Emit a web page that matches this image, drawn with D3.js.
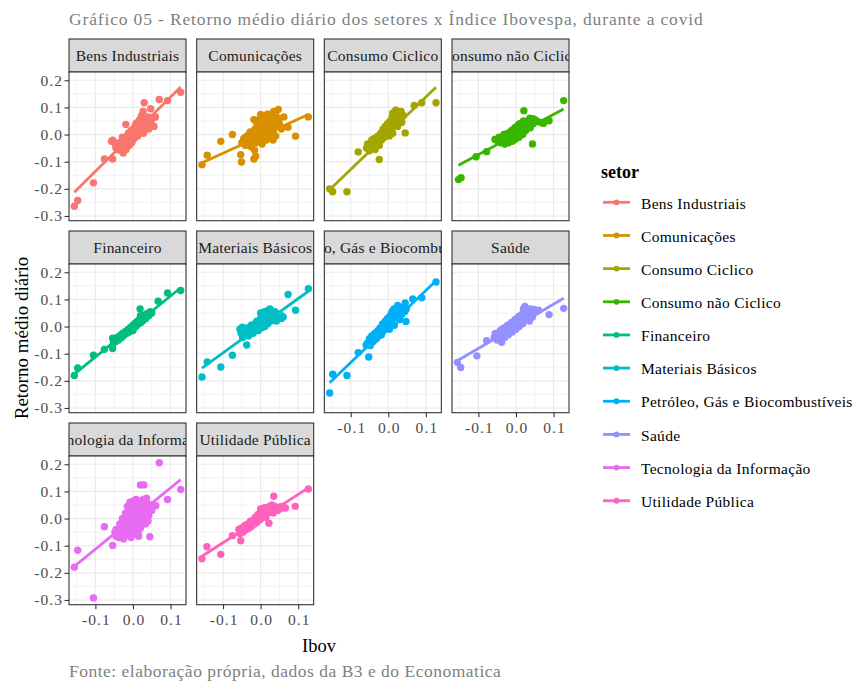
<!DOCTYPE html>
<html>
<head>
<meta charset="utf-8">
<script src="https://cdn.jsdelivr.net/npm/d3@7"></script>
<style>
  body { margin: 0; background: #ffffff; }
  text { font-family: "Liberation Serif", "DejaVu Serif", serif; }
</style>
</head>
<body>
<svg id="chart" width="854" height="684"></svg>
<script>
// Sectors, in facet / legend order
const sectors = [
  "Bens Industriais", "Comunicações", "Consumo Ciclico", "Consumo não Ciclico",
  "Financeiro", "Materiais Básicos", "Petróleo, Gás e Biocombustíveis", "Saúde",
  "Tecnologia da Informação", "Utilidade Pública"
];
const sectorColors = [
  "#F8766D", "#D89000", "#A3A500", "#39B600", "#00BF7D",
  "#00BFC4", "#00B0F6", "#9590FF", "#E76BF3", "#FF62BC"
];

// Linear fit (retorno = intercepto + inclinação * Ibov) for each sector
const slopes     = [1.37, 0.63, 1.335, 0.74, 1.125, 1.0, 1.327, 0.813, 1.13, 0.89];
const intercepts = [0.001, -0.006, 0.005, 0.0, 0.0, 0.003, 0.0, 0.001, 0.0, 0.0];

const xTicks = [-0.1, 0.0, 0.1];
const yTicks = [-0.3, -0.2, -0.1, 0.0, 0.1, 0.2];

// Daily mean return of each sector [Ibov, sector]
const bensIndustriais = [
  [-0.156,-0.264],[-0.147,-0.243],[-0.105,-0.178],[-0.076,-0.090],[-0.054,-0.090],[-0.054,-0.021],
  [-0.019,0.037],[0.030,0.117],[0.047,0.095],[0.070,0.129],[0.060,0.065],[0.092,0.125],[0.127,0.156],
  [-0.057,-0.025],[-0.048,-0.030],[-0.045,-0.045],[-0.040,-0.055],[-0.035,-0.040],[-0.032,-0.060],
  [-0.030,-0.025],[-0.027,-0.048],[-0.026,-0.068],[-0.022,-0.035],[-0.020,-0.010],[-0.018,-0.055],
  [-0.015,-0.020],[-0.012,0.005],[-0.010,-0.040],[-0.008,-0.015],[-0.005,0.015],[-0.003,-0.030],
  [0.000,0.000],[0.003,0.025],[0.005,-0.012],[0.008,0.040],[0.010,0.010],[0.013,-0.005],[0.015,0.030],
  [0.018,0.055],[0.020,0.015],[0.023,0.070],[0.025,0.040],[0.027,0.085],[0.028,0.005],[0.030,0.060],
  [0.033,0.025],[0.036,0.045],[0.040,0.065],[0.042,0.020],[0.046,0.050],[0.050,0.035],[0.053,0.060],
  [0.056,0.030],
  [-0.045,-0.050],[-0.040,-0.040],[-0.035,-0.030],[-0.030,-0.040],[-0.025,-0.025],[-0.020,-0.030],
  [-0.015,-0.005],[-0.010,-0.010],[-0.005,-0.005],[0.000,0.015],[0.005,0.005],[0.005,0.020],
  [0.010,0.025],[0.015,0.015],[0.020,0.035],[0.025,0.020],[0.030,0.040],[0.035,0.030],
  [0.038,0.055],[0.045,0.035],[-0.038,-0.048],[-0.028,-0.010],[0.000,-0.020],[0.012,0.045]
];
const comunicacoes = [
  [-0.156,-0.111],[-0.142,-0.076],[-0.106,-0.025],[-0.075,0.000],[-0.053,-0.074],[-0.051,-0.101],
  [-0.018,-0.090],[-0.013,-0.080],[0.127,0.065],[0.062,0.065],[0.073,0.027],[0.093,-0.006],
  [-0.050,-0.030],[-0.045,-0.015],[-0.040,-0.040],[-0.036,-0.005],[-0.032,-0.025],[-0.028,0.010],
  [-0.025,-0.045],[-0.022,-0.015],[-0.018,0.055],[-0.016,-0.058],[-0.015,0.020],[-0.012,-0.030],
  [-0.008,0.000],[-0.005,0.030],[-0.003,-0.020],[0.000,0.074],[0.000,0.010],[0.004,-0.035],
  [0.006,0.040],[0.009,-0.006],[0.012,0.020],[0.015,-0.020],[0.018,0.050],[0.020,0.005],
  [0.022,0.074],[0.025,0.030],[0.028,-0.010],[0.030,0.045],[0.034,0.015],[0.038,0.055],
  [0.040,-0.005],[0.044,0.030],[0.047,0.092],[0.050,0.040],[0.055,0.020],
  [-0.045,-0.030],[-0.040,-0.010],[-0.035,-0.025],[-0.030,-0.010],[-0.025,0.000],[-0.020,-0.030],
  [-0.015,0.000],[-0.010,0.040],[-0.010,-0.010],[-0.005,0.010],[0.000,-0.015],[0.000,0.040],
  [0.005,0.020],[0.010,0.055],[0.010,0.000],[0.015,0.035],[0.020,0.020],[0.025,0.060],
  [0.025,-0.005],[0.030,0.020],[0.035,0.035],[0.040,0.070],[0.045,0.050],[0.050,0.060],
  [-0.005,0.055],[0.018,0.075],[0.035,0.085],[0.033,-0.020]
];
const consumoCiclico = [
  [-0.156,-0.200],[-0.148,-0.211],[-0.110,-0.211],[-0.080,-0.064],[-0.024,-0.092],[0.045,0.006],
  [0.069,0.107],[0.089,0.117],[0.127,0.117],
  [-0.058,-0.050],[-0.055,-0.035],[-0.050,-0.060],[-0.046,-0.030],[-0.042,-0.045],[-0.038,-0.015],
  [-0.035,-0.055],[-0.030,-0.025],[-0.027,-0.005],[-0.024,-0.040],[-0.020,0.005],[-0.018,-0.020],
  [-0.014,0.020],[-0.010,-0.010],[-0.008,0.030],[-0.005,0.000],[-0.002,0.040],[0.000,0.015],
  [0.003,-0.005],[0.005,0.050],[0.008,0.025],[0.010,0.065],[0.012,0.005],[0.015,0.040],
  [0.018,0.075],[0.020,0.090],[0.022,0.055],[0.025,0.030],[0.028,0.080],[0.030,0.060],
  [0.034,0.085],[0.036,0.045],[0.040,0.070],
  [-0.052,-0.045],[-0.048,-0.040],[-0.044,-0.020],[-0.040,-0.035],[-0.033,-0.040],[-0.030,-0.010],
  [-0.025,-0.020],[-0.020,-0.010],[-0.016,0.005],[-0.012,0.005],[-0.008,0.010],[-0.004,0.020],
  [0.000,0.030],[0.004,0.030],[0.008,0.045],[0.012,0.040],[0.016,0.055],[0.020,0.060],
  [0.024,0.070],[0.028,0.055],[0.032,0.070],[0.035,0.060],[0.026,0.085],[0.012,0.080]
];
const consumoNaoCiclico = [
  [-0.153,-0.166],[-0.146,-0.159],[-0.106,-0.082],[-0.078,-0.063],[-0.056,-0.018],[0.021,0.088],
  [0.044,-0.035],[0.037,0.060],[0.073,0.041],[0.088,0.051],[0.127,0.125],
  [-0.048,-0.025],[-0.045,-0.010],[-0.040,-0.030],[-0.036,-0.015],[-0.032,0.000],[-0.030,-0.035],
  [-0.026,-0.020],[-0.022,0.005],[-0.020,-0.030],[-0.016,-0.010],[-0.012,0.015],[-0.010,-0.025],
  [-0.006,0.000],[-0.003,0.025],[0.000,-0.015],[0.003,0.010],[0.006,0.035],[0.008,-0.010],
  [0.012,0.020],[0.015,0.040],[0.018,0.000],[0.020,0.030],[0.024,0.045],[0.026,0.015],
  [0.030,0.035],[0.034,0.050],[0.038,0.025],[0.042,0.045],[0.046,0.040],[0.050,0.055],
  [-0.042,-0.020],[-0.038,-0.022],[-0.034,-0.010],[-0.028,-0.010],[-0.024,-0.012],[-0.018,-0.002],
  [-0.014,0.000],[-0.008,0.010],[-0.004,0.005],[0.000,0.015],[0.002,-0.005],[0.006,0.020],
  [0.010,0.010],[0.014,0.025],[0.018,0.020],[0.022,0.030],[0.028,0.030],[0.032,0.040],
  [0.036,0.040],[0.040,0.050],[0.010,0.040],[-0.005,-0.020],[0.020,0.050],
  [0.045,0.058],[0.055,0.050],[0.065,0.045]
];
const financeiro = [
  [-0.156,-0.180],[-0.147,-0.153],[-0.105,-0.106],[-0.076,-0.084],[-0.054,-0.081],[-0.054,-0.043],
  [0.067,0.093],[0.092,0.124],[0.127,0.133],[0.019,0.065],
  [-0.052,-0.060],[-0.050,-0.045],[-0.046,-0.055],[-0.042,-0.040],[-0.038,-0.050],[-0.035,-0.035],
  [-0.030,-0.040],[-0.028,-0.025],[-0.024,-0.032],[-0.020,-0.018],[-0.016,-0.025],[-0.012,-0.010],
  [-0.010,-0.020],[-0.006,-0.002],[-0.003,-0.012],[0.000,0.005],[0.003,-0.005],[0.006,0.012],
  [0.009,0.002],[0.012,0.020],[0.015,0.010],[0.018,0.028],[0.021,0.015],[0.024,0.035],
  [0.027,0.022],[0.030,0.042],[0.034,0.030],[0.038,0.048],[0.042,0.040],[0.046,0.055],[0.050,0.050],
  [-0.048,-0.052],[-0.044,-0.048],[-0.040,-0.045],[-0.036,-0.042],[-0.032,-0.032],[-0.026,-0.030],
  [-0.022,-0.025],[-0.018,-0.022],[-0.014,-0.015],[-0.008,-0.010],[-0.004,-0.005],[0.002,0.000],
  [0.004,0.008],[0.008,0.008],[0.011,0.012],[0.014,0.018],[0.017,0.020],[0.020,0.022],
  [0.023,0.027],[0.026,0.030],[0.029,0.033],[0.032,0.036],[0.036,0.040],[0.040,0.045],
  [0.044,0.048],[0.048,0.052],[0.020,0.040],[0.000,-0.015]
];
const materiaisBasicos = [
  [-0.156,-0.186],[-0.142,-0.130],[-0.106,-0.149],[-0.075,-0.106],[-0.037,-0.068],[-0.049,-0.002],
  [0.073,0.118],[0.093,0.060],[0.127,0.139],
  [-0.055,-0.010],[-0.052,-0.025],[-0.048,-0.040],[-0.045,-0.015],[-0.040,-0.030],[-0.036,-0.005],
  [-0.032,-0.035],[-0.028,-0.015],[-0.025,0.005],[-0.020,-0.025],[-0.016,0.010],[-0.014,-0.010],
  [-0.010,0.020],[-0.006,-0.015],[-0.004,0.005],[0.000,0.030],[0.002,-0.005],[0.006,0.015],
  [0.008,0.040],[0.011,0.000],[0.014,0.025],[0.016,0.055],[0.019,0.010],[0.022,0.040],
  [0.025,0.065],[0.028,0.020],[0.031,0.045],[0.035,0.030],[0.038,0.055],[0.042,0.020],
  [0.046,0.045],[0.050,0.030],[0.055,0.040],[0.060,0.035],[0.000,0.050],
  [-0.050,-0.020],[-0.045,-0.028],[-0.040,-0.015],[-0.035,-0.020],[-0.030,-0.005],[-0.025,-0.010],
  [-0.020,0.000],[-0.015,0.000],[-0.010,0.005],[-0.005,0.015],[0.000,0.010],[0.004,0.025],
  [0.008,0.020],[0.012,0.035],[0.016,0.030],[0.020,0.045],[0.024,0.035],[0.028,0.050],
  [0.032,0.035],[0.036,0.045],[0.040,0.040],[0.045,0.035],[0.050,0.045],[0.055,0.030],
  [0.020,0.060],[0.010,0.055]
];
const petroleoGas = [
  [-0.156,-0.245],[-0.148,-0.176],[-0.110,-0.180],[-0.080,-0.096],[-0.052,-0.112],[-0.059,-0.068],
  [0.047,0.019],[0.045,0.087],[0.065,0.102],[0.089,0.106],[0.127,0.164],
  [-0.055,-0.060],[-0.050,-0.045],[-0.048,-0.070],[-0.044,-0.035],[-0.040,-0.055],[-0.036,-0.025],
  [-0.032,-0.045],[-0.028,-0.015],[-0.025,-0.035],[-0.022,-0.005],[-0.018,-0.030],[-0.015,0.010],
  [-0.012,-0.015],[-0.008,0.020],[-0.005,-0.005],[-0.002,0.030],[0.000,0.010],[0.003,-0.010],
  [0.005,0.040],[0.008,0.020],[0.010,0.055],[0.013,0.030],[0.016,0.005],[0.018,0.060],
  [0.020,0.040],[0.024,0.070],[0.027,0.050],[0.030,0.025],[0.033,0.060],[0.036,0.045],
  [0.040,0.070],[0.044,0.055],[0.048,0.065],
  [-0.050,-0.060],[-0.045,-0.050],[-0.040,-0.040],[-0.036,-0.045],[-0.032,-0.030],[-0.028,-0.035],
  [-0.024,-0.020],[-0.020,-0.015],[-0.016,-0.015],[-0.012,0.000],[-0.008,0.000],[-0.004,0.010],
  [0.000,0.025],[0.004,0.015],[0.008,0.035],[0.012,0.045],[0.016,0.040],[0.020,0.055],
  [0.024,0.050],[0.028,0.060],[0.032,0.050],[0.036,0.060],[0.040,0.060],[0.015,0.065],[0.025,0.078]
];
const saude = [
  [-0.156,-0.132],[-0.147,-0.151],[-0.104,-0.108],[-0.078,-0.052],[-0.038,-0.058],[0.088,0.044],
  [0.127,0.067],
  [-0.058,-0.040],[-0.055,-0.025],[-0.050,-0.050],[-0.046,-0.030],[-0.042,-0.015],[-0.040,-0.045],
  [-0.036,-0.025],[-0.032,-0.005],[-0.030,-0.040],[-0.026,-0.015],[-0.022,0.005],[-0.020,-0.030],
  [-0.016,-0.005],[-0.012,0.015],[-0.010,-0.020],[-0.006,0.005],[-0.003,0.025],[0.000,-0.010],
  [0.003,0.015],[0.006,0.035],[0.008,0.000],[0.012,0.025],[0.015,0.045],[0.018,0.010],
  [0.020,0.035],[0.024,0.074],[0.024,0.055],[0.028,0.030],[0.032,0.050],[0.036,0.020],
  [0.040,0.045],[0.044,0.035],[0.040,0.065],[0.050,0.062],[0.060,0.060],
  [-0.052,-0.035],[-0.048,-0.040],[-0.044,-0.025],[-0.040,-0.030],[-0.036,-0.010],[-0.032,-0.025],
  [-0.028,-0.010],[-0.024,-0.020],[-0.020,0.000],[-0.016,-0.015],[-0.012,0.005],[-0.008,0.010],
  [-0.004,0.000],[0.000,0.020],[0.004,0.030],[0.008,0.020],[0.012,0.040],[0.016,0.030],
  [0.020,0.050],[0.024,0.040],[0.028,0.050],[0.032,0.060],[0.036,0.055],[0.045,0.058],
  [0.055,0.055],[0.020,0.065],[0.030,0.065]
];
const tecnologiaInformacao = [
  [-0.156,-0.179],[-0.147,-0.117],[-0.105,-0.2925],[-0.076,-0.030],[-0.054,-0.099],[0.020,0.124],
  [0.029,0.124],[0.045,-0.067],[0.061,0.047],[0.070,0.2055],[0.092,0.070],[0.127,0.107],
  [-0.048,-0.050],[-0.045,-0.065],[-0.040,-0.040],[-0.038,-0.070],[-0.035,-0.020],[-0.030,-0.050],
  [-0.028,0.000],[-0.025,-0.035],[-0.022,-0.065],[-0.020,0.020],[-0.018,-0.015],[-0.015,0.045],
  [-0.012,-0.045],[-0.010,0.000],[-0.008,0.060],[-0.006,0.030],[-0.004,-0.025],[-0.002,-0.060],
  [0.000,0.010],[0.002,0.065],[0.004,0.040],[0.006,-0.015],[0.008,-0.045],[0.010,0.020],
  [0.012,0.060],[0.015,-0.005],[0.018,0.045],[0.020,-0.035],[0.022,0.025],[0.025,0.060],
  [0.028,0.005],[0.030,0.040],[0.033,-0.020],[0.036,0.075],[0.038,0.030],[0.042,0.010],
  [0.046,0.050],[0.050,0.030],
  [-0.045,-0.040],[-0.042,-0.055],[-0.038,-0.045],[-0.035,-0.060],[-0.032,-0.030],[-0.030,-0.070],
  [-0.027,-0.020],[-0.024,-0.050],[-0.022,-0.005],[-0.018,-0.040],[-0.016,0.010],[-0.014,-0.060],
  [-0.012,0.030],[-0.010,-0.030],[-0.008,0.015],[-0.006,-0.050],[-0.004,0.050],[-0.002,-0.010],
  [0.000,0.040],[0.002,-0.035],[0.004,0.060],[0.006,0.010],[0.008,0.070],[0.010,-0.025],
  [0.012,0.035],[0.014,-0.050],[0.016,0.020],[0.018,0.065],[0.020,0.000],[0.022,0.050],
  [0.024,-0.015],[0.026,0.030],[0.028,0.070],[0.030,0.015],[0.032,0.055],[0.034,-0.005],
  [0.036,0.040],[0.040,0.055],[0.040,-0.010],[0.044,0.030],[0.010,0.045],[-0.005,-0.070],
  [0.015,-0.065],[-0.025,-0.075]
];
const utilidadePublica = [
  [-0.156,-0.148],[-0.143,-0.104],[-0.106,-0.132],[-0.075,-0.063],[-0.053,-0.082],[0.035,0.082],
  [0.066,0.039],[0.092,0.045],[0.127,0.109],[0.022,-0.017],
  [-0.058,-0.040],[-0.055,-0.055],[-0.050,-0.035],[-0.046,-0.050],[-0.042,-0.025],[-0.038,-0.040],
  [-0.034,-0.020],[-0.030,-0.035],[-0.027,-0.010],[-0.024,-0.028],[-0.020,-0.005],[-0.017,-0.020],
  [-0.014,0.005],[-0.010,-0.015],[-0.007,0.015],[-0.004,-0.005],[0.000,0.020],[0.002,0.000],
  [0.005,0.025],[0.008,0.010],[0.011,0.030],[0.014,0.005],[0.017,0.035],[0.020,0.020],
  [0.023,0.045],[0.026,0.025],[0.030,0.040],[0.034,0.020],[0.038,0.045],[0.042,0.030],
  [0.046,0.040],[0.050,0.035],[0.055,0.045],[0.060,0.040],
  [-0.052,-0.045],[-0.048,-0.040],[-0.044,-0.035],[-0.040,-0.030],[-0.036,-0.030],[-0.032,-0.025],
  [-0.028,-0.020],[-0.024,-0.015],[-0.020,-0.018],[-0.016,-0.005],[-0.012,-0.005],[-0.008,0.000],
  [-0.004,0.010],[0.000,0.005],[0.004,0.012],[0.008,0.020],[0.012,0.018],[0.016,0.022],
  [0.020,0.030],[0.024,0.030],[0.028,0.030],[0.032,0.035],[0.036,0.035],[0.010,0.040],
  [0.000,0.035],[0.030,0.050],[0.045,0.030]
];
const sectorPoints = [
  bensIndustriais, comunicacoes, consumoCiclico, consumoNaoCiclico, financeiro,
  materiaisBasicos, petroleoGas, saude, tecnologiaInformacao, utilidadePublica
];

// ---- layout ----
const svg = d3.select("#chart");
const nCol = 4;
const panelW = 117, panelH = 148.7, stripH = 33;
const colStep = 127.67, rowStep = 192;
const left0 = 69, top0 = 39;
const textGrey = "#4D4D4D", borderCol = "#333333", gridCol = "#EBEBEB";
const tickFont = 15.5, tickSpacing = 1.1;

// shared scales (5% expansion, like ggplot)
const allPts = sectorPoints.flat();
function expanded(ext) { const r = ext[1] - ext[0]; return [ext[0] - 0.05 * r, ext[1] + 0.05 * r]; }
const xExt = d3.extent(allPts, d => d[0]);
const yExt = d3.extent(allPts, d => d[1]);
const x = d3.scaleLinear().domain(expanded(xExt)).range([0, panelW]);
const y = d3.scaleLinear().domain(expanded(yExt)).range([panelH, 0]);

function minorBreaks(ticks, dom) {
  const step = ticks[1] - ticks[0];
  const out = [];
  for (let i = -1; i < ticks.length; i++) {
    const v = (i < 0 ? ticks[0] - step / 2 : ticks[i] + step / 2);
    if (v > dom[0] && v < dom[1]) out.push(v);
  }
  return out;
}
const xMinor = minorBreaks(xTicks, x.domain());
const yMinor = minorBreaks(yTicks, y.domain());
const fmt = d => d.toFixed(1);

const defs = svg.append("defs");
defs.append("clipPath").attr("id", "panelClip")
  .append("rect").attr("width", panelW).attr("height", panelH);
defs.append("clipPath").attr("id", "stripClip")
  .append("rect").attr("width", panelW).attr("height", stripH);

const nPanels = sectors.length;
const nRows = Math.ceil(nPanels / nCol);

sectors.forEach((name, i) => {
  const col = i % nCol, row = Math.floor(i / nCol);
  const px = left0 + col * colStep;
  const sy = top0 + row * rowStep;
  const py = sy + stripH;
  const color = sectorColors[i];
  const pts = sectorPoints[i];

  // strip
  const strip = svg.append("g").attr("transform", `translate(${px},${sy})`);
  strip.append("rect").attr("width", panelW).attr("height", stripH)
    .attr("fill", "#D9D9D9").attr("stroke", borderCol).attr("stroke-width", 1.1);
  strip.append("g").attr("clip-path", "url(#stripClip)")
    .append("text").attr("x", panelW / 2).attr("y", stripH / 2).attr("dy", "0.35em")
    .attr("text-anchor", "middle").attr("font-size", 15.5).attr("letter-spacing", 0.2)
    .attr("fill", "#1A1A1A")
    .text(name);

  // panel
  const g = svg.append("g").attr("transform", `translate(${px},${py})`);
  g.append("rect").attr("width", panelW).attr("height", panelH).attr("fill", "#ffffff");
  const grid = g.append("g");
  grid.selectAll(".xmin").data(xMinor).join("line")
    .attr("x1", d => x(d)).attr("x2", d => x(d)).attr("y1", 0).attr("y2", panelH)
    .attr("stroke", gridCol).attr("stroke-width", 0.6);
  grid.selectAll(".ymin").data(yMinor).join("line")
    .attr("y1", d => y(d)).attr("y2", d => y(d)).attr("x1", 0).attr("x2", panelW)
    .attr("stroke", gridCol).attr("stroke-width", 0.6);
  grid.selectAll(".xmaj").data(xTicks).join("line")
    .attr("x1", d => x(d)).attr("x2", d => x(d)).attr("y1", 0).attr("y2", panelH)
    .attr("stroke", gridCol).attr("stroke-width", 1.2);
  grid.selectAll(".ymaj").data(yTicks).join("line")
    .attr("y1", d => y(d)).attr("y2", d => y(d)).attr("x1", 0).attr("x2", panelW)
    .attr("stroke", gridCol).attr("stroke-width", 1.2);

  const marks = g.append("g").attr("clip-path", "url(#panelClip)");
  marks.selectAll("circle").data(pts).join("circle")
    .attr("cx", d => x(d[0])).attr("cy", d => y(d[1])).attr("r", 3.7)
    .attr("fill", color);

  const px0 = d3.min(pts, d => d[0]), px1 = d3.max(pts, d => d[0]);
  const fit = [px0, px1].map(v => [v, intercepts[i] + slopes[i] * v]);
  marks.append("path").datum(fit)
    .attr("d", d3.line().x(d => x(d[0])).y(d => y(d[1])))
    .attr("fill", "none").attr("stroke", color).attr("stroke-width", 2.8);

  g.append("rect").attr("width", panelW).attr("height", panelH)
    .attr("fill", "none").attr("stroke", borderCol).attr("stroke-width", 1.1);

  // y axis on first column
  if (col === 0) {
    const ax = g.append("g").call(d3.axisLeft(y).tickValues(yTicks).tickSize(4.5).tickFormat(fmt));
    ax.select(".domain").remove();
    ax.selectAll(".tick line").attr("stroke", borderCol).attr("stroke-width", 1.1);
    ax.selectAll(".tick text").attr("x", -7 + tickSpacing).attr("fill", textGrey)
      .attr("font-size", tickFont).attr("letter-spacing", tickSpacing)
      .attr("font-family", "Liberation Serif");
  }
  // x axis under the lowest panel of each column
  const lowest = (row === nRows - 1) || (i + nCol >= nPanels);
  if (lowest) {
    const ax = g.append("g").attr("transform", `translate(0,${panelH})`)
      .call(d3.axisBottom(x).tickValues(xTicks).tickSize(4.5).tickFormat(fmt));
    ax.select(".domain").remove();
    ax.selectAll(".tick line").attr("stroke", borderCol).attr("stroke-width", 1.1);
    ax.selectAll(".tick text").attr("y", 9).attr("x", tickSpacing / 2).attr("fill", textGrey)
      .attr("font-size", tickFont).attr("letter-spacing", tickSpacing)
      .attr("font-family", "Liberation Serif");
  }
});

// axis titles
svg.append("text").attr("transform", "translate(28,338) rotate(-90)")
  .attr("text-anchor", "middle").attr("font-size", 19).attr("fill", "#000")
  .text("Retorno médio diário");
svg.append("text").attr("x", 319).attr("y", 652)
  .attr("text-anchor", "middle").attr("font-size", 18.5).attr("fill", "#000")
  .text("Ibov");

// title and caption
svg.append("text").attr("x", 69).attr("y", 25).attr("font-size", 17.5)
  .attr("letter-spacing", 0.85).attr("fill", "#7F7F7F")
  .text("Gráfico 05 - Retorno médio diário dos setores x Índice Ibovespa, durante a covid");
svg.append("text").attr("x", 69).attr("y", 677).attr("font-size", 17.5)
  .attr("letter-spacing", 0.5).attr("fill", "#7F7F7F")
  .text("Fonte: elaboração própria, dados da B3 e do Economatica");

// legend
const legend = svg.append("g").attr("transform", "translate(601,0)");
legend.append("text").attr("x", 0).attr("y", 178).attr("font-size", 18).attr("font-weight", "bold")
  .attr("fill", "#000").text("setor");
const items = legend.selectAll(".item").data(sectors).join("g")
  .attr("transform", (d, i) => `translate(0,${202.3 + i * 33.16})`);
items.append("line").attr("x1", 2).attr("x2", 29).attr("y1", 0).attr("y2", 0)
  .attr("stroke", (d, i) => sectorColors[i]).attr("stroke-width", 2.8);
items.append("circle").attr("cx", 15.5).attr("cy", 0).attr("r", 2.9)
  .attr("fill", (d, i) => sectorColors[i]);
items.append("text").attr("x", 40).attr("y", 0).attr("dy", "0.4em")
  .attr("font-size", 15.5).attr("letter-spacing", 0.3).attr("fill", "#000").text(d => d);
</script>
</body>
</html>
